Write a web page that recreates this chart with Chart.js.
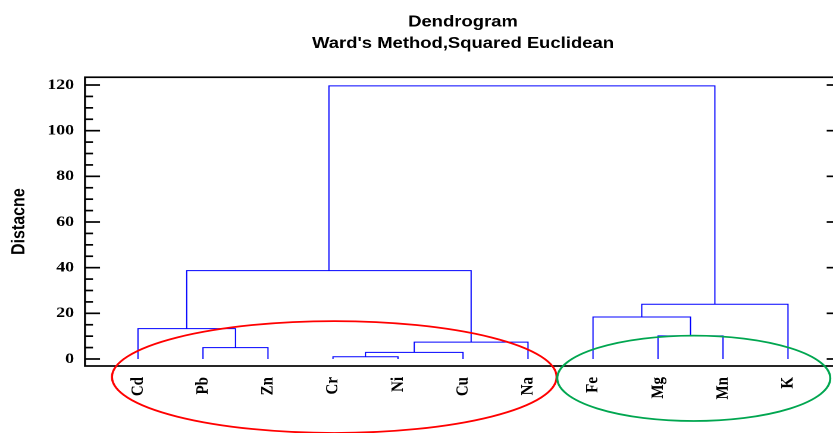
<!DOCTYPE html>
<html>
<head>
<meta charset="utf-8">
<title>Dendrogram</title>
<script src="https://cdn.jsdelivr.net/npm/chart.js@4.4.1/dist/chart.umd.min.js"></script>
<style>
  html, body { margin: 0; padding: 0; background: #fff; overflow: hidden; }
  #wrap { width: 833px; height: 433px; overflow: hidden; }
  /* the original picture is stretched sideways, so the canvas is too */
  #chart { transform: scaleX(1.19); transform-origin: 0 0; }
</style>
</head>
<body>
<div id="wrap"><canvas id="chart" width="778" height="433"></canvas></div>
<script>
// leaves of the tree, left to right
const leaves = ['Cd', 'Pb', 'Zn', 'Cr', 'Ni', 'Cu', 'Na', 'Fe', 'Mg', 'Mn', 'K'];
// merge steps: nodes 0-10 are the leaves, node 11 is the first merge, 12 the second ...
const mergeLeft = [3, 11, 1, 12, 8, 0, 7, 17, 16, 19];
const mergeRight = [4, 5, 2, 6, 9, 13, 15, 10, 14, 18];
const mergeHeight = [1.0, 2.9, 5.0, 7.4, 10.1, 13.3, 18.4, 24.0, 38.7, 119.6];
const yTicks = [0, 20, 40, 60, 80, 100, 120];
const minorStep = 5;
// hand drawn groups: centre (leaf index, distance) and radii in the same units
const groupCenterX = [3.02, 8.55];
const groupCenterY = [-7.9, -8.45];
const groupRadiusX = [3.42, 2.10];
const groupRadiusY = [24.5, 18.7];
const groupColors = ['#ff0000', '#00a650'];

const sans = '"Liberation Sans", Arial, Helvetica, sans-serif';
const serif = '"Liberation Serif", "Times New Roman", serif';

// build the U shaped links of the tree
const nodeX = leaves.map((_, i) => i);
const nodeH = leaves.map(() => 0);
const datasets = [];
mergeLeft.forEach((a, k) => {
  const b = mergeRight[k];
  const h = mergeHeight[k];
  datasets.push({
    data: [
      { x: nodeX[a], y: nodeH[a] },
      { x: nodeX[a], y: h },
      { x: nodeX[b], y: h },
      { x: nodeX[b], y: nodeH[b] }
    ],
    borderColor: '#0000ff',
    borderWidth: 1,
    pointRadius: 0,
    fill: false,
    tension: 0
  });
  nodeX.push((nodeX[a] + nodeX[b]) / 2);
  nodeH.push(h);
});

// box, inward ticks and the two circled groups
const framePlugin = {
  id: 'frame',
  afterDraw(chart) {
    const { ctx, chartArea: a, scales: { x, y } } = chart;
    ctx.save();
    ctx.strokeStyle = '#000';
    ctx.lineWidth = 1.7;
    ctx.strokeRect(a.left, a.top, a.right - a.left, a.bottom - a.top);
    for (let v = 0; v <= 120; v += minorStep) {
      const py = y.getPixelForValue(v);
      const major = yTicks.includes(v);
      ctx.beginPath();
      ctx.moveTo(a.left, py);
      ctx.lineTo(a.left + (major ? 12.6 : 6.7), py);
      ctx.stroke();
      if (major) {
        ctx.beginPath();
        ctx.moveTo(a.right, py);
        ctx.lineTo(a.right - 12, py);
        ctx.stroke();
      }
    }
    ctx.lineWidth = 1.8;
    groupCenterX.forEach((cx, i) => {
      const px = x.getPixelForValue(cx);
      const py = y.getPixelForValue(groupCenterY[i]);
      const rx = Math.abs(x.getPixelForValue(cx + groupRadiusX[i]) - px);
      const ry = Math.abs(y.getPixelForValue(groupCenterY[i] + groupRadiusY[i]) - py);
      ctx.strokeStyle = groupColors[i];
      ctx.beginPath();
      ctx.ellipse(px, py, rx, ry, 0, 0, Math.PI * 2);
      ctx.stroke();
    });
    ctx.restore();
  }
};

new Chart(document.getElementById('chart'), {
  type: 'line',
  data: { datasets: datasets },
  plugins: [framePlugin],
  options: {
    responsive: false,
    devicePixelRatio: 2,
    animation: false,
    layout: { padding: { left: 0, right: 71.3, top: 0, bottom: 0 } },
    plugins: {
      legend: { display: false },
      tooltip: { enabled: false },
      title: {
        display: true,
        fullSize: false,
        text: ['Dendrogram', "Ward's Method,Squared Euclidean"],
        color: '#000',
        font: { family: sans, size: 15.5, weight: 'bold', lineHeight: '21.5px' },
        padding: { top: 11.25, bottom: 23 }
      }
    },
    scales: {
      x: {
        type: 'linear',
        min: -0.815,
        max: 10.815,
        grid: { display: false, drawTicks: false },
        border: { display: false },
        afterBuildTicks: s => { s.ticks = leaves.map((_, i) => ({ value: i })); },
        afterFit: s => { s.height = 67; },
        ticks: {
          autoSkip: false,
          minRotation: 90,
          maxRotation: 90,
          padding: 11,
          color: '#000',
          font: { family: serif, size: 15, weight: 'bold' },
          callback: v => leaves[v]
        }
      },
      y: {
        min: -3.07,
        max: 123.4,
        grid: { display: false, drawTicks: false },
        border: { display: false },
        afterBuildTicks: s => { s.ticks = yTicks.map(v => ({ value: v })); },
        afterFit: s => { s.width = 71.43; },
        ticks: {
          padding: 9.2,
          color: '#000',
          font: { family: serif, size: 15, weight: 'bold' }
        },
        title: {
          display: true,
          text: 'Distacne',
          color: '#000',
          font: { family: sans, size: 16, weight: 'bold' },
          padding: { top: 6.6, bottom: 0 }
        }
      }
    }
  }
});
</script>
</body>
</html>
